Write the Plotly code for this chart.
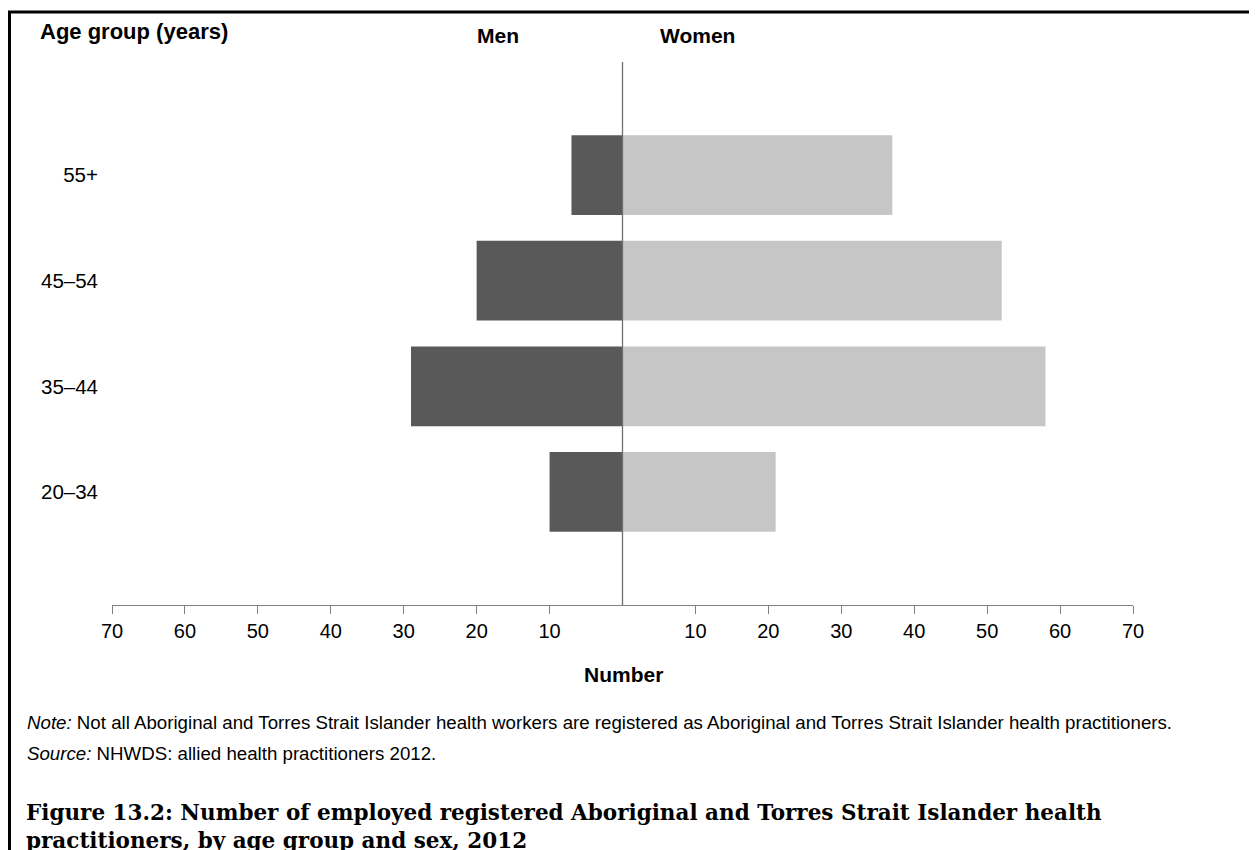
import plotly.graph_objects as go

age_groups = ["20–34", "35–44", "45–54", "55+"]
men = [10, 29, 20, 7]
women = [21, 58, 52, 37]
tick_vals = [-70, -60, -50, -40, -30, -20, -10, 10, 20, 30, 40, 50, 60, 70]
tick_text = ["70", "60", "50", "40", "30", "20", "10", "10", "20", "30", "40", "50", "60", "70"]

W, H = 1257, 850
OFF = 8  # page body margin
# plot area in screen (reference) pixels
L, R, T, B = 112, 1133, 62, 605
ml, mr, mt, mb = L - OFF, W - (R - OFF), T - OFF, H - (B - OFF)


def px(x):
    return (x - L) / (R - L)


def py(y):
    return (B - y) / (B - T)


fig = go.Figure()
fig.add_trace(go.Bar(
    y=age_groups, x=[-v for v in men], orientation="h", name="Men",
    marker=dict(color="#595959", line=dict(width=0)),
    customdata=men, hovertemplate="Men %{y}: %{customdata}<extra></extra>",
))
fig.add_trace(go.Bar(
    y=age_groups, x=women, orientation="h", name="Women",
    marker=dict(color="#c6c6c6", line=dict(width=0)),
    hovertemplate="Women %{y}: %{x}<extra></extra>",
))

fig.update_layout(
    width=W, height=H,
    margin=dict(l=ml, r=mr, t=mt, b=mb, pad=0),
    barmode="relative", bargap=0.245,
    showlegend=False,
    plot_bgcolor="white", paper_bgcolor="white",
    font=dict(family="Liberation Sans, Arial, sans-serif", size=20, color="black"),
    xaxis=dict(
        range=[-70, 70], tickmode="array", tickvals=tick_vals, ticktext=tick_text,
        showgrid=False, zeroline=False, showline=True, linecolor="#808080", linewidth=1,
        ticks="outside", ticklen=8, tickcolor="#808080", tickwidth=1,
        tickfont=dict(size=20), fixedrange=True,
    ),
    yaxis=dict(
        range=[-1.07, 4.07], showgrid=False, zeroline=False, showline=False,
        ticks="", tickfont=dict(size=20.5), ticklabelstandoff=13, fixedrange=True,
    ),
)

# centre line
fig.add_shape(type="line", xref="x", yref="paper", x0=0, x1=0, y0=0, y1=1,
              line=dict(color="#707070", width=1.3), layer="above")
# frame
fig.add_shape(type="rect", xref="paper", yref="paper",
              x0=px(9.5), x1=px(1330), y0=py(12), y1=py(930),
              line=dict(color="black", width=3), layer="above")

ann = [
    dict(text="<b>Age group (years)</b>", x=px(38), y=py(31), xanchor="left", size=22),
    dict(text="<b>Men</b>", x=px(498), y=py(36), xanchor="center", size=21),
    dict(text="<b>Women</b>", x=px(697), y=py(36), xanchor="center", size=21),
    dict(text="<b>Number</b>", x=px(623), y=py(674), xanchor="center", size=21),
    dict(text="<i>Note:</i> Not all Aboriginal and Torres Strait Islander health workers are registered as Aboriginal and Torres Strait Islander health practitioners.",
         x=px(25), y=py(722), xanchor="left", size=18.7),
    dict(text="<i>Source:</i> NHWDS: allied health practitioners 2012.",
         x=px(25), y=py(753), xanchor="left", size=18.7),
]
for a in ann:
    fig.add_annotation(text=a["text"], xref="paper", yref="paper", x=a["x"], y=a["y"],
                       xanchor=a["xanchor"], yanchor="middle", showarrow=False,
                       font=dict(size=a["size"], color="black"))

fig.add_annotation(
    text="<b>Figure 13.2: Number of employed registered Aboriginal and Torres Strait Islander health<br>practitioners, by age group and sex, 2012</b>",
    xref="paper", yref="paper", x=px(24), y=py(826), xanchor="left", yanchor="middle",
    align="left", showarrow=False,
    font=dict(family="DejaVu Serif, serif", size=21.5, color="black"),
)

fig.write_html("out.html")
